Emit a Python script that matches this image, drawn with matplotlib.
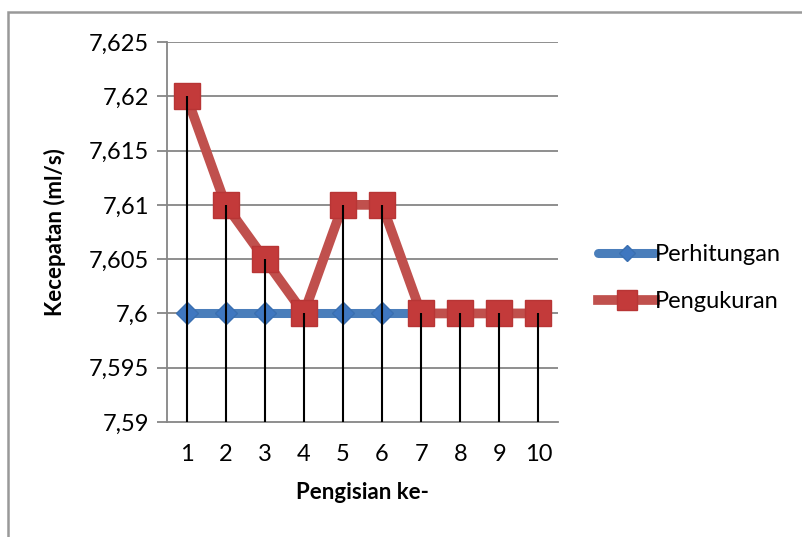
import numpy as np
import matplotlib.pyplot as plt
from matplotlib.patches import Rectangle

plt.rcParams['font.family'] = ['Lato', 'DejaVu Sans']

pengisian = [1, 2, 3, 4, 5, 6, 7, 8, 9, 10]
perhitungan = [7.6, 7.6, 7.6, 7.6, 7.6, 7.6, 7.6, 7.6, 7.6, 7.6]
pengukuran = [7.62, 7.61, 7.605, 7.6, 7.61, 7.61, 7.6, 7.6, 7.6, 7.6]
y_ticks = [7.59, 7.595, 7.6, 7.605, 7.61, 7.615, 7.62, 7.625]
y_labels = ['7,59', '7,595', '7,6', '7,605', '7,61', '7,615', '7,62', '7,625']

fig = plt.figure(figsize=(8.03, 5.37), dpi=100)
W, H = 803, 537
ax = fig.add_axes([167 / W, (H - 422) / H, 391 / W, 380 / H])

# chart frame
fig.patches.append(Rectangle((8 / W, -0.1), 1.2, (H - 12) / H + 0.1,
                             transform=fig.transFigure, fill=False,
                             edgecolor='#999999', linewidth=1.8))

ax.set_xlim(0.5, 10.5)
ax.set_ylim(7.59, 7.625)
ax.set_yticks(y_ticks)
ax.set_yticklabels(y_labels)
ax.set_xticks(pengisian)
ax.set_xticklabels([str(p) for p in pengisian])

for v in y_ticks[1:]:
    ax.axhline(v, color='#868686', linewidth=1.3, zorder=1)

for s in ['top', 'right']:
    ax.spines[s].set_visible(False)
ax.spines['left'].set_color('#868686')
ax.spines['bottom'].set_color('#868686')
ax.spines['left'].set_linewidth(1.3)
ax.spines['bottom'].set_linewidth(1.3)
ax.tick_params(axis='y', length=7, color='#868686', width=1.3, labelsize=17, pad=6)
ax.tick_params(axis='x', length=0, labelsize=17, pad=16)

l1, = ax.plot(pengisian, perhitungan, color='#4a7ebb', linewidth=6.5,
              marker='D', markersize=11, markerfacecolor='#3f77c0',
              markeredgecolor='#3a6fb0', solid_capstyle='round', zorder=3)
l2, = ax.plot(pengisian, pengukuran, color='#c0504d', linewidth=7,
              marker='s', markersize=19, markerfacecolor='#c33a3a',
              markeredgecolor='#b83535', zorder=4)

# drop lines from the highest point down to the axis
top = np.maximum(perhitungan, pengukuran)
ax.vlines(pengisian, 7.59, top, color='black', linewidth=1.5, zorder=5)

ax.set_ylabel('Kecepatan (ml/s)', fontsize=16, fontweight='bold', labelpad=16)
ax.set_xlabel('Pengisian ke-', fontsize=16, fontweight='bold', labelpad=12)

fig.legend([l1, l2], ['Perhitungan', 'Pengukuran'], loc='center left',
           bbox_to_anchor=(577 / W, 1 - 278 / H), frameon=False,
           fontsize=17, handlelength=2.4, handletextpad=0.0,
           labelspacing=1.1, markerscale=0.75)

fig.savefig('out.png', dpi=100)
